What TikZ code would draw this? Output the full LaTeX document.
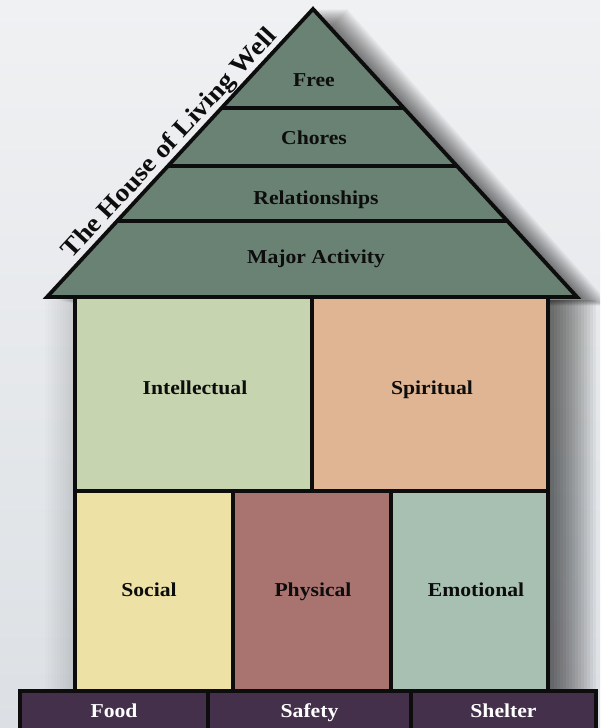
\documentclass[tikz,border=0pt]{standalone}
\usepackage{fontspec}
\setmainfont{Liberation Serif}[FakeStretch=1.1]
\usepackage{tikz}
\usetikzlibrary{calc,fit}
\definecolor{houseBg}{HTML}{F0F1F3}
\definecolor{houseBgDark}{HTML}{DCE0E4}
\definecolor{houseInk}{HTML}{0D0D0D}
\definecolor{roofGreen}{HTML}{6A8274}
\definecolor{roomIntel}{HTML}{C6D5AF}
\definecolor{roomSpirit}{HTML}{E0B593}
\definecolor{roomSocial}{HTML}{EEE1A6}
\definecolor{roomPhys}{HTML}{A97470}
\definecolor{roomEmo}{HTML}{A8C0B1}
\definecolor{baseInk}{HTML}{44304B}

\begin{document}
\begin{tikzpicture}[
  x=0.025cm, y=-0.025cm,
  wall/.style={draw=houseInk, line width=2.7pt},
  room/.style={wall, inner sep=0pt},
  plank/.style={room, fill=baseInk},
  word/.style={font=\fontsize{14}{16}\selectfont\bfseries, text=houseInk,
               inner sep=0pt, text height=9.5pt, text depth=0.5pt},
  baseword/.style={word, text=white},
  title/.style={font=\fontsize{18}{20}\selectfont\bfseries, text=houseInk, inner sep=1pt},
  haze/.style={fill=black, opacity=#1}
]
\useasboundingbox (0,0) rectangle (600,728);
\clip (0,0) rectangle (600,728);
\fill[top color=houseBg, bottom color=houseBgDark] (0,0) rectangle (600,728);

% Roof corners
\coordinate (apex)  at (313,9);
\coordinate (eaveL) at (47,297);
\coordinate (eaveR) at (577,297);

% Soft shadows: stacked thin layers, darkest next to the walls
\foreach \d in {3,6,...,48}
  \fill[haze=0.046] (548,300) rectangle (548+\d,691);
\foreach \d in {3,6,...,30}
  \fill[haze=0.012] (75-\d,300) rectangle (75,691);
\foreach \d in {2,4,...,34}
  \fill[haze=0.04] ($(apex)+(\d,0)$) -- ($(eaveR)+(\d,0.25*\d)$) -- ($(eaveL)+(\d,0.25*\d)$) -- cycle;

% Rooms
\node[room, fill=roomIntel,  fit={(75,297) (312,491)}]  (intel)  {};
\node[room, fill=roomSpirit, fit={(312,297) (548,491)}] (spirit) {};
\node[room, fill=roomSocial, fit={(75,491) (233,691)}]  (social) {};
\node[room, fill=roomPhys,   fit={(233,491) (391,691)}] (phys)   {};
\node[room, fill=roomEmo,    fit={(391,491) (548,691)}] (emo)    {};

\node[word] (intelL)  at (195,388) {Intellectual};
\node[word] (spiritL) at (432,388) {Spiritual};
\node[word] (socialL) at (149,590) {Social};
\node[word] (physL)   at (313,590) {Physical};
\node[word] (emoL)    at (476,590) {Emotional};

% Roof with its four bands
\draw[wall, fill=roofGreen] (eaveL) -- (apex) -- (eaveR) -- cycle;
\foreach \t in {0.264,0.455,0.656}
  \draw[wall] ($(eaveL)!\t!(apex)$) -- ($(eaveR)!\t!(apex)$);

\node[word] (free)  at (314,80)  {Free};
\node[word] (chore) at (314,138) {Chores};
\node[word] (relat) at (316,198) {Relationships};
\node[word] (major) at (316,257) {Major Activity};

\path (eaveL) -- node[title, sloped, above, pos=0.5] (name) {The House of Living Well} (apex);

% Foundation
\node[plank, fit={(20,691) (208,731)}]  (food)    {};
\node[plank, fit={(208,691) (411,731)}] (safety)  {};
\node[plank, fit={(411,691) (596,731)}] (shelter) {};

\node[baseword] (foodL)    at (food)    {Food};
\node[baseword] (safetyL)  at (safety)  {Safety};
\node[baseword] (shelterL) at (shelter) {Shelter};
\end{tikzpicture}
\end{document}
